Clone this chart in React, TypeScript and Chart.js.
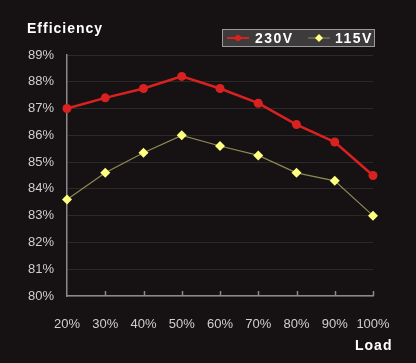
import React, { useEffect, useRef } from "react";
import { Chart, registerables } from "chart.js";
Chart.register(...registerables);

const loadLabels = ["20%", "30%", "40%", "50%", "60%", "70%", "80%", "90%", "100%"];
const eff230 = [87.0, 87.4, 87.75, 88.2, 87.75, 87.2, 86.4, 85.75, 84.5];
const eff115 = [83.6, 84.6, 85.35, 86.0, 85.6, 85.25, 84.6, 84.3, 83.0];
const seriesNames = ["230V", "115V"];
const yTitle = "Efficiency";
const xTitle = "Load";
const yMin = 80;
const yMax = 89;

const BG = "#161213";
const RED = "#d9221f";
const YEL = "#ffff80";
const YEL_LINE = "#8d8a55";

const decorPlugin = {
  id: "decor",
  beforeDraw(chart: any) {
    const ctx = chart.ctx;
    ctx.save();
    ctx.fillStyle = BG;
    ctx.fillRect(0, 0, chart.width, chart.height);
    ctx.restore();
  },
  afterDraw(chart: any) {
    const ctx = chart.ctx;
    const xs = chart.scales.x;
    const area = chart.chartArea;
    ctx.save();
    // inner tick marks on x axis
    ctx.strokeStyle = "#8a8a8a";
    ctx.lineWidth = 1.5;
    for (let i = 1; i < loadLabels.length; i++) {
      const px = Math.round(xs.getPixelForTick(i)) + 0.5;
      ctx.beginPath();
      ctx.moveTo(px, area.bottom);
      ctx.lineTo(px, area.bottom - 5);
      ctx.stroke();
    }
    // titles
    ctx.fillStyle = "#ffffff";
    ctx.font = "bold 14px 'Liberation Sans', Arial, sans-serif";
    (ctx as any).letterSpacing = "1px";
    ctx.textBaseline = "middle";
    ctx.textAlign = "left";
    ctx.fillText(yTitle, 27, 29);
    ctx.fillText(xTitle, 355, 346);

    // legend box
    const lx = 222, ly = 29, lw = 153, lh = 18;
    ctx.fillStyle = "#3d3b3c";
    ctx.fillRect(lx, ly, lw, lh);
    ctx.strokeStyle = "#9a9a9a";
    ctx.lineWidth = 1;
    ctx.strokeRect(lx + 0.5, ly + 0.5, lw - 1, lh - 1);
    const cy = ly + lh / 2;
    // 230V
    ctx.strokeStyle = RED;
    ctx.lineWidth = 2;
    ctx.beginPath();
    ctx.moveTo(227, cy);
    ctx.lineTo(249, cy);
    ctx.stroke();
    ctx.fillStyle = RED;
    ctx.beginPath();
    ctx.arc(238, cy, 3, 0, Math.PI * 2);
    ctx.fill();
    // 115V
    ctx.strokeStyle = YEL_LINE;
    ctx.lineWidth = 1;
    ctx.beginPath();
    ctx.moveTo(308, cy);
    ctx.lineTo(330, cy);
    ctx.stroke();
    ctx.fillStyle = YEL;
    ctx.beginPath();
    ctx.moveTo(319, cy - 4);
    ctx.lineTo(323, cy);
    ctx.lineTo(319, cy + 4);
    ctx.lineTo(315, cy);
    ctx.closePath();
    ctx.fill();
    ctx.fillStyle = "#ffffff";
    ctx.font = "bold 14px 'Liberation Sans', Arial, sans-serif";
    (ctx as any).letterSpacing = "1.5px";
    ctx.fillText(seriesNames[0], 255, cy + 1);
    ctx.fillText(seriesNames[1], 335, cy + 1);
    ctx.restore();
  },
};

export default function App() {
  const ref = useRef<HTMLCanvasElement>(null);
  useEffect(() => {
    document.body.style.margin = "0";
    document.body.style.background = BG;
    const chart = new Chart(ref.current!, {
      type: "line",
      data: {
        labels: loadLabels,
        datasets: [
          {
            label: seriesNames[0],
            data: eff230,
            borderColor: RED,
            backgroundColor: RED,
            borderWidth: 2.5,
            pointRadius: 4.5,
            pointStyle: "circle",
            pointBorderWidth: 0,
            tension: 0,
            clip: false as any,
          },
          {
            label: seriesNames[1],
            data: eff115,
            borderColor: YEL_LINE,
            backgroundColor: YEL,
            borderWidth: 1.2,
            pointRadius: 5,
            pointStyle: "rectRot",
            pointBorderWidth: 0,
            tension: 0,
            clip: false as any,
          },
        ],
      },
      options: {
        responsive: false,
        animation: false,
        layout: { padding: { top: 55, right: 43, left: 0, bottom: 0 } },
        plugins: { legend: { display: false }, tooltip: { enabled: false }, title: { display: false } },
        scales: {
          x: {
            type: "category",
            offset: false,
            grid: { display: false, drawTicks: false },
            border: { display: true, color: "#8a8a8a", width: 1.5 },
            ticks: {
              color: "#cfcfcf",
              font: { family: "'Liberation Sans', Arial, sans-serif", size: 13 },
              padding: 21,
              maxRotation: 0,
              autoSkip: false,
            },
            afterFit: (s: any) => {
              s.height = 67;
            },
          },
          y: {
            min: yMin,
            max: yMax,
            grid: { color: "#2d2829", lineWidth: 1, drawTicks: false },
            border: { display: true, color: "#8a8a8a", width: 1.5 },
            ticks: {
              stepSize: 1,
              color: "#cfcfcf",
              font: { family: "'Liberation Sans', Arial, sans-serif", size: 13 },
              padding: 13,
              callback: (v: any) => v + "%",
            },
            afterFit: (s: any) => {
              s.width = 67;
            },
          },
        },
      },
      plugins: [decorPlugin],
    });
    return () => chart.destroy();
  }, []);
  return (
    <div style={{ position: "absolute", left: 0, top: 0, width: 416, height: 363, background: BG }}>
      <canvas ref={ref} width={416} height={363} />
    </div>
  );
}
